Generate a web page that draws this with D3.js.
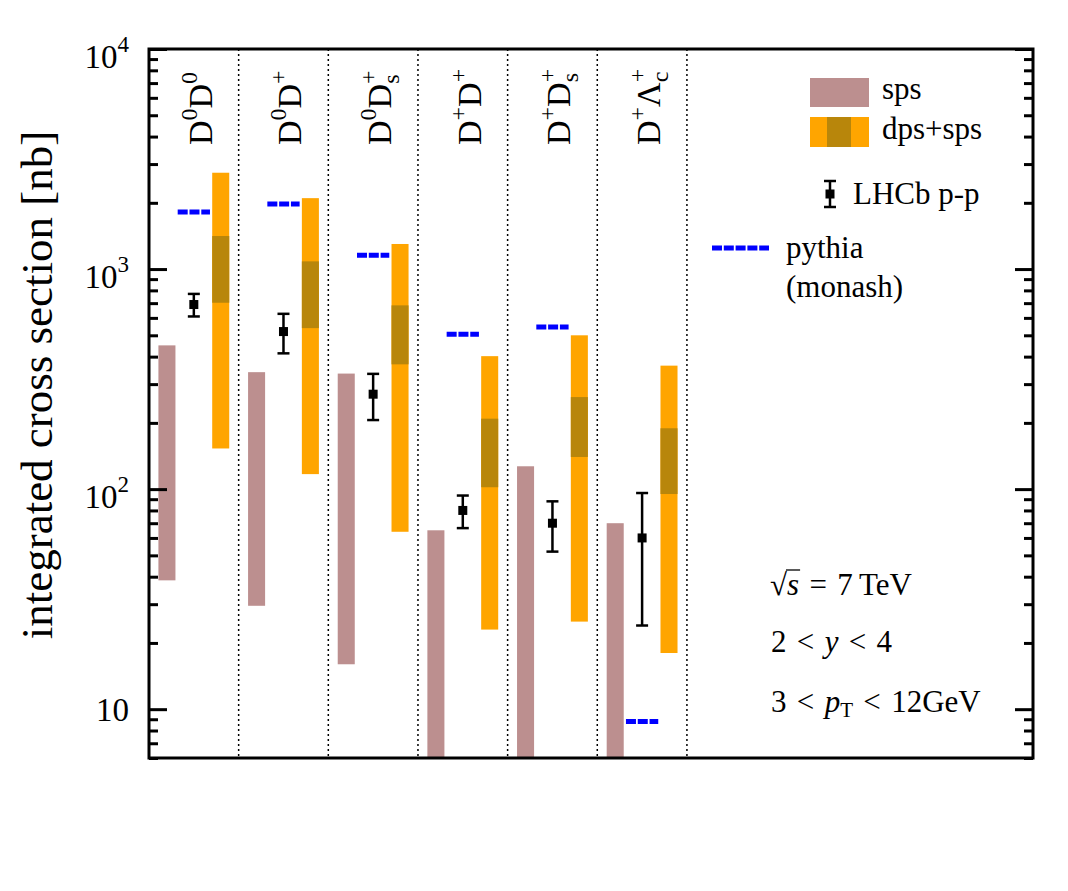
<!DOCTYPE html>
<html>
<head>
<meta charset="utf-8">
<script src="https://cdn.jsdelivr.net/npm/d3@7.9.0/dist/d3.min.js"></script>
<style>
  body { margin: 0; background: #fff; }
  svg text { font-family: 'Liberation Serif', 'Times New Roman', serif; fill: #000; }
</style>
</head>
<body>
<svg id="chart" width="1068" height="891"></svg>
<script>
// channel labels, as tokens: [text, 'sup'|'sub']
const categories = [
  [['D'], ['0', 'sup'], ['D'], ['0', 'sup']],
  [['D'], ['0', 'sup'], ['D'], ['+', 'sup']],
  [['D'], ['0', 'sup'], ['D'], ['+', 'sup'], ['s', 'sub']],
  [['D'], ['+', 'sup'], ['D'], ['+', 'sup']],
  [['D'], ['+', 'sup'], ['D'], ['+', 'sup'], ['s', 'sub']],
  [['D'], ['+', 'sup'], ['\u039B'], ['+', 'sup'], ['c', 'sub']]
];

// sps band (nb)
const spsLow  = [38.5, 29.5, 16, 4, 4, 4];
const spsHigh = [450, 340, 335, 65, 127, 70];
// dps+sps band, full range and central dark band
const totLow   = [153, 117, 64, 23, 25, 18];
const totHigh  = [2740, 2100, 1300, 402, 500, 364];
const darkLow  = [703, 539, 369, 102, 140, 95];
const darkHigh = [1413, 1084, 684, 209, 262, 189];
// LHCb measurement
const lhcb    = [690, 520, 270, 80, 70, 60];
const lhcbErr = [81, 106, 64, 13.5, 18, 36];
// pythia (monash)
const pythia = [1816, 1973, 1154, 505, 545, 8.8];

const yMajor = [10, 100, 1000, 10000];
const yMinor = [6, 7, 8, 9, 20, 30, 40, 50, 60, 70, 80, 90,
  200, 300, 400, 500, 600, 700, 800, 900, 2000, 3000, 4000, 5000, 6000, 7000, 8000, 9000];

const pLeft = 149, pRight = 1033, pTop = 49, pBottom = 758;
const svg = d3.select('#chart');

const xScale = d3.scaleLinear().domain([0, 9.86]).range([pLeft, pRight]);
const yScale = d3.scaleLog().domain([6, 1e4]).range([pBottom, pTop]);

svg.append('clipPath').attr('id', 'clip')
  .append('rect').attr('x', pLeft).attr('y', pTop)
  .attr('width', pRight - pLeft).attr('height', pBottom - pTop);

const plot = svg.append('g').attr('clip-path', 'url(#clip)');

// dotted separators
plot.selectAll('line.sep')
  .data(d3.range(1, categories.length + 1))
  .join('line')
  .attr('x1', d => xScale(d)).attr('x2', d => xScale(d))
  .attr('y1', pTop).attr('y2', pBottom)
  .attr('stroke', '#000').attr('stroke-width', 1.5)
  .attr('stroke-dasharray', '2,3');

const bw = 0.19;
const idx = d3.range(categories.length);

// sps bars
plot.selectAll('rect.sps')
  .data(idx)
  .join('rect')
  .attr('x', i => xScale(i + 0.2 - bw / 2))
  .attr('width', i => xScale(i + 0.2 + bw / 2) - xScale(i + 0.2 - bw / 2))
  .attr('y', i => yScale(spsHigh[i]))
  .attr('height', i => yScale(spsLow[i]) - yScale(spsHigh[i]))
  .attr('fill', 'rosybrown');

// dps+sps bars
plot.selectAll('rect.tot')
  .data(idx)
  .join('rect')
  .attr('x', i => xScale(i + 0.8 - bw / 2))
  .attr('width', i => xScale(i + 0.8 + bw / 2) - xScale(i + 0.8 - bw / 2))
  .attr('y', i => yScale(totHigh[i]))
  .attr('height', i => yScale(totLow[i]) - yScale(totHigh[i]))
  .attr('fill', 'orange');

plot.selectAll('rect.dark')
  .data(idx)
  .join('rect')
  .attr('x', i => xScale(i + 0.8 - bw / 2))
  .attr('width', i => xScale(i + 0.8 + bw / 2) - xScale(i + 0.8 - bw / 2))
  .attr('y', i => yScale(darkHigh[i]))
  .attr('height', i => yScale(darkLow[i]) - yScale(darkHigh[i]))
  .attr('fill', 'darkgoldenrod');

// pythia dashes
plot.selectAll('line.py')
  .data(idx)
  .join('line')
  .attr('x1', i => xScale(i + 0.32)).attr('x2', i => xScale(i + 0.68))
  .attr('y1', i => yScale(pythia[i])).attr('y2', i => yScale(pythia[i]))
  .attr('stroke', '#0000ff').attr('stroke-width', 5)
  .attr('stroke-dasharray', '10,1.8');

// LHCb points
function errBar(g, cx, yHi, yLo, yc) {
  g.append('line').attr('x1', cx).attr('x2', cx).attr('y1', yHi).attr('y2', yLo)
    .attr('stroke', '#000').attr('stroke-width', 2.5);
  [yHi, yLo].forEach(yy => g.append('line')
    .attr('x1', cx - 6).attr('x2', cx + 6).attr('y1', yy).attr('y2', yy)
    .attr('stroke', '#000').attr('stroke-width', 2.5));
  g.append('rect').attr('x', cx - 4.5).attr('y', yc - 4.5)
    .attr('width', 9).attr('height', 9).attr('fill', '#000');
}
idx.forEach(i => {
  errBar(plot, xScale(i + 0.5), yScale(lhcb[i] + lhcbErr[i]),
    yScale(lhcb[i] - lhcbErr[i]), yScale(lhcb[i]));
});

// axis ticks, pointing inward on both sides
function ticks(axis, x, vals, size) {
  svg.append('g').attr('transform', `translate(${x},0)`)
    .call(axis(yScale).tickValues(vals).tickSize(size).tickFormat(''))
    .call(g => g.select('.domain').remove())
    .call(g => g.selectAll('line').attr('stroke', '#000').attr('stroke-width', 3));
}
ticks(d3.axisRight, pLeft, yMajor, 18);
ticks(d3.axisRight, pLeft, yMinor, 9);
ticks(d3.axisLeft, pRight, yMajor, 18);
ticks(d3.axisLeft, pRight, yMinor, 9);

svg.append('rect').attr('x', pLeft).attr('y', pTop)
  .attr('width', pRight - pLeft).attr('height', pBottom - pTop)
  .attr('fill', 'none').attr('stroke', '#000').attr('stroke-width', 3);

// tick labels
yMajor.forEach(v => {
  const e = Math.round(Math.log10(v));
  const t = svg.append('text').attr('text-anchor', 'end')
    .attr('font-size', 33).attr('x', 129);
  if (e === 1) {
    t.attr('y', yScale(v) + 12).text('10');
  } else {
    t.attr('y', yScale(v) + 19);
    t.append('tspan').text('10');
    t.append('tspan').attr('font-size', 23).attr('dy', -16).text(e);
  }
});

// y label
svg.append('text')
  .attr('transform', 'translate(52,385) rotate(-90)')
  .attr('text-anchor', 'middle').attr('font-size', 45)
  .text('integrated cross section [nb]');

// channel labels
categories.forEach((toks, i) => {
  const t = svg.append('text').attr('font-size', 34)
    .attr('transform', `translate(${xScale(i + 0.7)},145) rotate(-90)`);
  let shift = 0, lastSupW = 0;
  toks.forEach(([s, kind]) => {
    const sp = t.append('tspan').text(s);
    if (kind === 'sup') {
      sp.attr('font-size', 24).attr('dy', -15 - shift);
      shift = -15;
      lastSupW = s === '+' ? 13.5 : 12;
    } else if (kind === 'sub') {
      sp.attr('font-size', 24).attr('dy', 8 - shift).attr('dx', -lastSupW);
      shift = 8;
    } else {
      sp.attr('dy', -shift);
      shift = 0;
    }
  });
});

// legend
const lg = svg.append('g').attr('font-size', 31);
lg.append('rect').attr('x', 810).attr('y', 78).attr('width', 59).attr('height', 29).attr('fill', 'rosybrown');
lg.append('rect').attr('x', 810).attr('y', 117).attr('width', 59).attr('height', 30).attr('fill', 'orange');
lg.append('rect').attr('x', 827).attr('y', 117).attr('width', 24).attr('height', 30).attr('fill', 'darkgoldenrod');
lg.append('text').attr('x', 882).attr('y', 99).text('sps');
lg.append('text').attr('x', 882).attr('y', 139).text('dps+sps');
errBar(lg, 830, 181, 207, 194);
lg.append('text').attr('x', 853).attr('y', 204).text('LHCb p-p');
lg.append('line').attr('x1', 712).attr('x2', 769).attr('y1', 248).attr('y2', 248)
  .attr('stroke', '#0000ff').attr('stroke-width', 5).attr('stroke-dasharray', '10,1.8');
lg.append('text').attr('x', 786).attr('y', 258).text('pythia');
lg.append('text').attr('x', 786).attr('y', 297).text('(monash)');

// kinematics
const sp3 = '\u2004';
const kin = svg.append('g').attr('font-size', 31);
const sq = kin.append('text').attr('x', 770).attr('y', 595).text('\u221A');
const sqW = sq.node().getComputedTextLength();
const sTxt = kin.append('text').attr('x', 770 + sqW).attr('y', 595);
sTxt.append('tspan').attr('font-style', 'italic').text('s');
const sW = sTxt.node().getComputedTextLength();
kin.append('line').attr('x1', 770 + sqW - 1).attr('x2', 770 + sqW + sW + 1)
  .attr('y1', 570).attr('y2', 570).attr('stroke', '#000').attr('stroke-width', 1.3);
kin.append('text').attr('x', 770 + sqW + sW).attr('y', 595)
  .text(sp3 + '=' + sp3 + '7\u2009TeV');

const t2 = kin.append('text').attr('x', 771).attr('y', 652);
t2.append('tspan').text('2' + sp3 + '<' + sp3);
t2.append('tspan').attr('font-style', 'italic').text('y');
t2.append('tspan').text(sp3 + '<' + sp3 + '4');

const t3 = kin.append('text').attr('x', 771).attr('y', 712);
t3.append('tspan').text('3' + sp3 + '<' + sp3);
t3.append('tspan').attr('font-style', 'italic').text('p');
t3.append('tspan').attr('font-size', 21).attr('dy', 5).text('T');
t3.append('tspan').attr('dy', -5).text(sp3 + '<' + sp3 + '12GeV');
</script>
</body>
</html>
